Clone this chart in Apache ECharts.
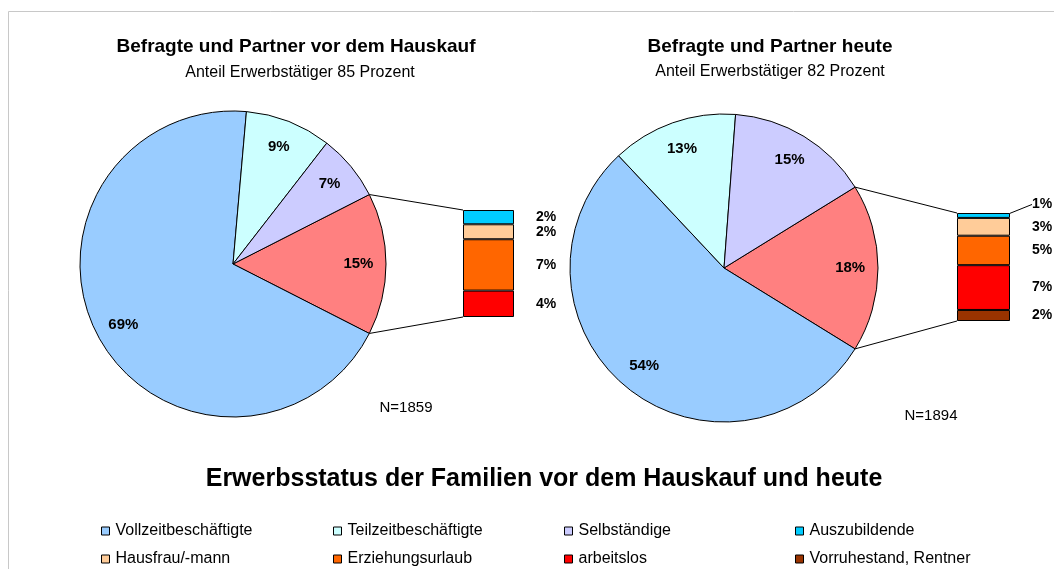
<!DOCTYPE html>
<html>
<head>
<meta charset="utf-8">
<script src="https://cdn.jsdelivr.net/npm/echarts@6/dist/echarts.min.js"></script>
<style>
  html, body { margin: 0; padding: 0; background: #fff; }
  #chart { width: 1054px; height: 569px; }
</style>
</head>
<body>
<div id="chart"></div>
<script>
// main pie categories
const pieNames = ['Vollzeitbeschäftigte', 'Teilzeitbeschäftigte', 'Selbständige']
const pieBefore = [68.9, 9.1, 7.0]
const pieToday = [54.2, 13.2, 15.0]

// categories broken out into the bar
const barNames = ['Auszubildende', 'Hausfrau/-mann', 'Erziehungsurlaub', 'arbeitslos', 'Vorruhestand, Rentner']
const barBefore = [2.0, 2.1, 7.2, 3.7, 0]
const barToday = [0.8, 2.9, 4.8, 7.3, 1.8]

const pieColors = ['#99CCFF', '#CCFFFF', '#CCCCFF']
const restColor = '#FF8080'
const barColors = ['#00CCFF', '#FFCC99', '#FF6600', '#FF0000', '#993300']

const FONT = 'Liberation Sans, Arial, sans-serif'

const sum = arr => arr.reduce((a, b) => a + b, 0)
const pct = v => Math.round(v) + '%'

// layout of the two pie-of-bar blocks
const blocks = [
  { pie: pieBefore, bar: barBefore, cx: 233, cy: 264, r: 153,
    grid: { left: 463, top: 210, width: 51, height: 107 } },
  { pie: pieToday, bar: barToday, cx: 724, cy: 268, r: 154,
    grid: { left: 957, top: 213, width: 53, height: 108 } }
]

const series = []
const grids = []
const xAxes = []
const yAxes = []
const graphics = []

blocks.forEach((b, i) => {
  const rest = sum(b.bar)
  const startAngle = rest * 3.6 / 2
  const pieData = [{ name: 'Rest', value: rest, itemStyle: { color: restColor } }]
    .concat(pieNames.map((n, k) => ({ name: n, value: b.pie[k], itemStyle: { color: pieColors[k] } })))

  series.push({
    type: 'pie',
    center: [b.cx, b.cy],
    radius: [0, b.r],
    startAngle: startAngle,
    clockwise: true,
    silent: true,
    data: pieData,
    label: { show: false },
    labelLine: { show: false },
    itemStyle: { borderColor: '#000', borderWidth: 1 }
  })
  // transparent ring only to carry the percentage labels at ~0.8 r
  series.push({
    type: 'pie',
    center: [b.cx, b.cy],
    radius: [b.r * 0.6, b.r],
    startAngle: startAngle,
    clockwise: true,
    silent: true,
    data: pieData.map(d => ({ name: d.name, value: d.value, itemStyle: { color: 'rgba(0,0,0,0)' } })),
    itemStyle: { borderWidth: 0 },
    label: {
      show: true, position: 'inside', color: '#000', fontFamily: FONT,
      fontWeight: 'bold', fontSize: 15,
      formatter: p => pct(p.value)
    },
    labelLine: { show: false }
  })

  grids.push(b.grid)
  xAxes.push({ type: 'category', gridIndex: i, data: [''], show: false })
  yAxes.push({ type: 'value', gridIndex: i, min: 0, max: rest, inverse: true, show: false })

  barNames.forEach((n, k) => {
    if (!b.bar[k]) return
    const s = {
      type: 'bar',
      name: n,
      xAxisIndex: i,
      yAxisIndex: i,
      stack: 'rest' + i,
      barWidth: '100%',
      silent: true,
      data: [b.bar[k]],
      itemStyle: { color: barColors[k], borderColor: '#000', borderWidth: 1 },
      label: {
        show: true, position: 'right', distance: 22, color: '#000',
        fontFamily: FONT, fontWeight: 'bold', fontSize: 14,
        formatter: p => pct(p.value)
      }
    }
    if (b.bar[k] < 1.5 && k === 0) {
      s.labelLayout = { dy: -11, dx: 0 }
      s.labelLine = { show: true, lineStyle: { color: '#000', width: 1 } }
    }
    series.push(s)
  })

  // connector lines from the rest slice to the bar
  const a = startAngle * Math.PI / 180
  const px = b.cx + b.r * Math.cos(a)
  const dy = b.r * Math.sin(a)
  graphics.push({
    type: 'line', silent: true,
    shape: { x1: px, y1: b.cy - dy, x2: b.grid.left, y2: b.grid.top },
    style: { stroke: '#000', lineWidth: 1 }
  })
  graphics.push({
    type: 'line', silent: true,
    shape: { x1: px, y1: b.cy + dy, x2: b.grid.left, y2: b.grid.top + b.grid.height },
    style: { stroke: '#000', lineWidth: 1 }
  })
})

const text = (str, x, y, size, bold) => ({
  type: 'text', silent: true,
  style: {
    text: str, x: x, y: y, align: 'center', verticalAlign: 'middle',
    fill: '#000', font: (bold ? 'bold ' : '') + size + 'px ' + FONT
  }
})

graphics.push(
  { type: 'rect', silent: true, z: -10,
    shape: { x: 8.5, y: 11.5, width: 1200, height: 700 },
    style: { fill: 'none', stroke: '#c8c8c8', lineWidth: 1 } },
  text('Befragte und Partner vor dem Hauskauf', 296, 47, 19, true),
  text('Anteil Erwerbstätiger 85 Prozent', 300, 73, 16, false),
  text('Befragte und Partner heute', 770, 47, 19, true),
  text('Anteil Erwerbstätiger 82 Prozent', 770, 72, 16, false),
  text('N=1859', 406, 408, 15, false),
  text('N=1894', 931, 416, 15, false),
  text('Erwerbsstatus der Familien vor dem Hauskauf und heute', 544, 479, 25, true)
)

// legend: two rows of four fixed columns
const legendNames = pieNames.concat(barNames)
const colX = [96, 328, 559, 790]
const rowY = [518, 546]
const legends = legendNames.map((n, k) => ({
  left: colX[k % 4], top: rowY[Math.floor(k / 4)],
  icon: 'rect', itemWidth: 8, itemHeight: 8,
  selectedMode: false,
  data: [n],
  itemStyle: { borderColor: '#000', borderWidth: 1 },
  textStyle: { fontFamily: FONT, fontSize: 16, color: '#000', padding: [0, 0, 0, 1] }
}))

const chart = echarts.init(document.getElementById('chart'))
chart.setOption({
  animation: false,
  backgroundColor: '#fff',
  grid: grids,
  xAxis: xAxes,
  yAxis: yAxes,
  legend: legends,
  graphic: graphics,
  series: series
})
</script>
</body>
</html>
